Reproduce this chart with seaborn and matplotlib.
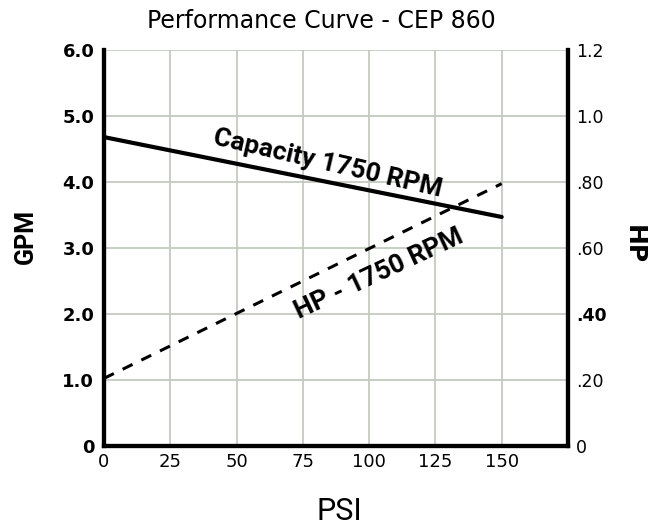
import matplotlib
matplotlib.use("Agg")
import matplotlib.pyplot as plt
import seaborn as sns
import pandas as pd

# Performance curve data
psi = [0, 150]
capacity_gpm = [4.68, 3.47]
hp_1750 = [0.205, 0.795]

x_ticks = [0, 25, 50, 75, 100, 125, 150, 175]
x_labels = ["0", "25", "50", "75", "100", "125", "150", ""]
gpm_ticks = [0, 1, 2, 3, 4, 5, 6]
gpm_labels = ["0", "1.0", "2.0", "3.0", "4.0", "5.0", "6.0"]
hp_ticks = [0, 0.2, 0.4, 0.6, 0.8, 1.0, 1.2]
hp_labels = ["0", ".20", ".40", ".60", ".80", "1.0", "1.2"]

grid_color = "#c3cbc0"


def main():
    sns.set_theme(style="white")
    plt.rcParams["font.family"] = ["DejaVu Sans"]
    for key in ("text.color", "axes.labelcolor", "xtick.color", "ytick.color"):
        plt.rcParams[key] = "black"

    df = pd.DataFrame({"psi": psi, "gpm": capacity_gpm, "hp": hp_1750})

    fig = plt.figure(figsize=(6.64, 5.26), dpi=100)
    ax = fig.add_axes([0.1566, 0.152, 0.6988, 0.753])
    ax2 = ax.twinx()

    # grid
    ax.set_xlim(0, 175)
    ax.set_ylim(0, 6)
    ax.set_xticks(x_ticks)
    ax.set_yticks(gpm_ticks)
    ax.grid(True, color=grid_color, linewidth=1.3)
    ax.set_axisbelow(True)

    sns.lineplot(data=df, x="psi", y="gpm", ax=ax, color="black", linewidth=3.0)
    sns.lineplot(data=df, x="psi", y="hp", ax=ax2, color="black", linewidth=2.2)
    ax2.lines[0].set_dashes((3.6, 3.2))
    ax2.set_ylim(0, 1.2)
    ax2.set_yticks(hp_ticks)

    # spines
    for a in (ax, ax2):
        a.spines["top"].set_visible(False)
        for s in ("left", "right", "bottom"):
            a.spines[s].set_linewidth(3.0)
            a.spines[s].set_color("black")
        a.tick_params(length=0)

    ax.set_xticklabels(x_labels, fontsize=13)
    ax.set_yticklabels(gpm_labels, fontsize=13, fontweight="bold")
    ax2.set_yticklabels(hp_labels, fontsize=12.5)
    ax2.get_yticklabels()[2].set_fontweight("bold")
    ax.tick_params(axis="y", pad=7)
    ax.tick_params(axis="x", pad=5)
    ax2.tick_params(axis="y", pad=6)
    ax.set_xlabel("")
    ax.set_ylabel("")
    ax2.set_ylabel("")

    # axis titles and chart title
    fig.text(339 / 664, 1 - 511 / 526, "PSI", fontsize=22, family="Roboto",
             ha="center", va="center")
    fig.text(26 / 664, 1 - 236 / 526, "GPM", fontsize=18, fontweight="bold",
             family="Roboto", rotation=90, ha="center", va="center")
    fig.text(634 / 664, 1 - 245 / 526, "HP", fontsize=18, fontweight="bold",
             rotation=-90, ha="center", va="center")
    fig.text(321.5 / 664, 1 - 21 / 526, "Performance Curve - CEP 860",
             fontsize=17, ha="center", va="center")

    # curve labels
    ax.text(84.5, 4.28, "Capacity 1750 RPM", fontsize=19, fontweight="bold",
            family="Roboto", rotation=-13, ha="center", va="center")
    ax.text(103.7, 2.60, "HP - 1750 RPM", fontsize=19, fontweight="bold",
            family="Roboto", rotation=25, ha="center", va="center")

    fig.savefig("out.png", dpi=100)


if __name__ == "__main__":
    main()
